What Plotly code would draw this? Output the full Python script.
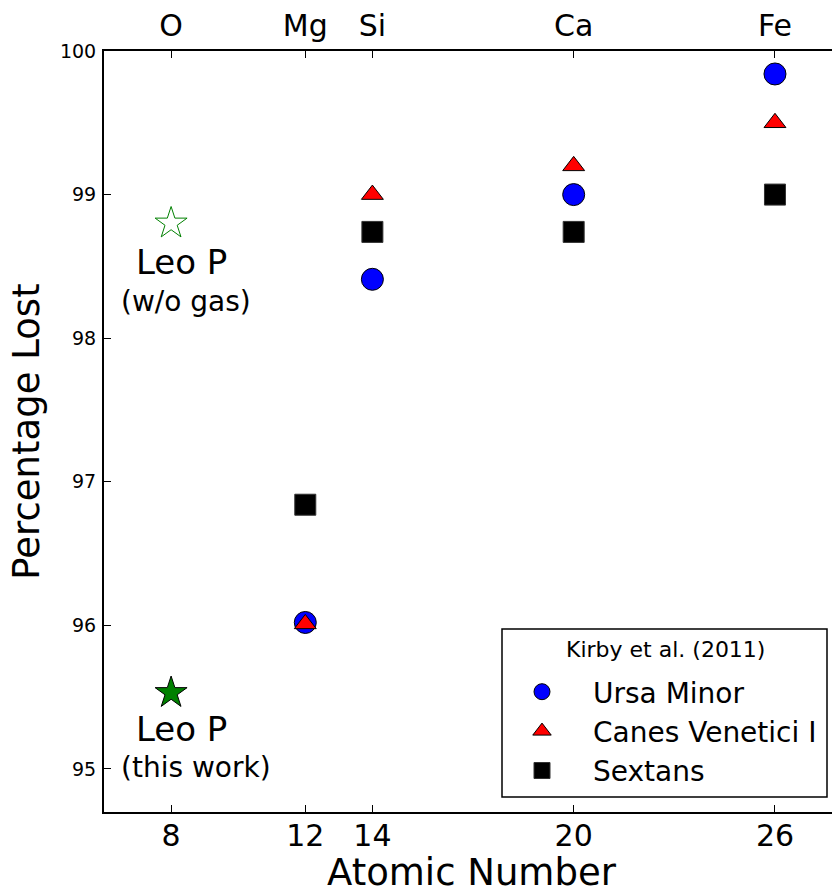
import plotly.graph_objects as go

# Element positions on the x axis (atomic number) and their symbols
atomic_numbers = [8, 12, 14, 20, 26]
element_symbols = ["O", "Mg", "Si", "Ca", "Fe"]

# Kirby et al. (2011) dwarf galaxies: percentage of each element lost
kirby_z = [12, 14, 20, 26]
ursa_minor = [96.02, 98.41, 99.0, 99.84]
canes_venatici = [96.01, 99.0, 99.2, 99.5]
sextans = [96.84, 98.74, 98.74, 99.0]

# Leo P oxygen loss
leo_p_z = [8]
leo_p_no_gas = [98.8]
leo_p_this_work = [95.53]

FONT = "DejaVu Sans"
X_RANGE = [6, 27.7]
Y_RANGE = [94.7, 100]

# Plot-area geometry in pixels (used to place the legend frame and x title)
W, H = 832, 894
M_L, M_R, M_T, M_B = 104, 0, 51, 82
PW, PH = W - M_L - M_R, H - M_T - M_B


def px_to_paper_x(px):
    return (px - M_L) / PW


def px_to_paper_y(py):
    return (H - M_B - py) / PH


fig = go.Figure()

fig.add_trace(go.Scatter(
    x=kirby_z, y=ursa_minor, mode="markers", name="Ursa Minor",
    marker=dict(symbol="circle", size=22, color="#0000ff",
                line=dict(color="black", width=1)),
))
fig.add_trace(go.Scatter(
    x=kirby_z, y=canes_venatici, mode="markers", name="Canes Venetici I",
    marker=dict(symbol="triangle-up", size=19, color="#ff0000",
                line=dict(color="black", width=1)),
))
fig.add_trace(go.Scatter(
    x=kirby_z, y=sextans, mode="markers", name="Sextans",
    marker=dict(symbol="square", size=21, color="black",
                line=dict(color="#333333", width=1)),
))

# Leo P stars live on the top (element-symbol) axis, which mirrors the bottom one
fig.add_trace(go.Scatter(
    x=leo_p_z, y=leo_p_no_gas, mode="markers", xaxis="x2", showlegend=False,
    marker=dict(symbol="star-open", size=24, color="#008000",
                line=dict(color="#008000", width=1)),
))
fig.add_trace(go.Scatter(
    x=leo_p_z, y=leo_p_this_work, mode="markers", xaxis="x2", showlegend=False,
    marker=dict(symbol="star", size=24, color="#008000",
                line=dict(color="black", width=1)),
))

# Labels under the Leo P stars (left-aligned text blocks)
labels = [
    (leo_p_no_gas[0], "Leo P", 34, -37, -39),
    (leo_p_no_gas[0], "(w/o gas)", 28, -52, -78),
    (leo_p_this_work[0], "Leo P", 34, -37, -36),
    (leo_p_this_work[0], "(this work)", 28, -52, -75),
]
for yv, txt, size, xs, ys in labels:
    fig.add_annotation(
        x=leo_p_z[0], y=yv, xref="x", yref="y", text=txt, showarrow=False,
        xshift=xs, yshift=ys, xanchor="left", yanchor="middle",
        font=dict(family=FONT, size=size, color="black"),
    )

# x-axis title, set just above the bottom edge of the page
fig.add_annotation(
    x=px_to_paper_x(472), y=px_to_paper_y(872), xref="paper", yref="paper",
    text="Atomic Number", showarrow=False, xanchor="center", yanchor="middle",
    font=dict(family=FONT, size=37, color="black"),
)

# Legend frame and heading
fig.add_shape(
    type="rect", xref="paper", yref="paper",
    x0=px_to_paper_x(502), x1=px_to_paper_x(827),
    y0=px_to_paper_y(797), y1=px_to_paper_y(629),
    line=dict(color="black", width=1.5), fillcolor="white", layer="below",
)
fig.add_annotation(
    x=px_to_paper_x(665), y=px_to_paper_y(649), xref="paper", yref="paper",
    text="Kirby et al. (2011)", showarrow=False,
    xanchor="center", yanchor="middle",
    font=dict(family=FONT, size=22, color="black"),
)

axis_common = dict(
    showgrid=False, zeroline=False, ticks="inside", ticklen=7, tickwidth=1,
    tickcolor="black", showline=True, linecolor="black", linewidth=2,
    automargin=False,
)

fig.update_layout(
    width=W, height=H,
    margin=dict(l=M_L, r=M_R, t=M_T, b=M_B, autoexpand=False),
    paper_bgcolor="white", plot_bgcolor="white",
    font=dict(family=FONT, color="black"),
    xaxis=dict(
        range=X_RANGE, tickvals=atomic_numbers,
        ticktext=[str(z) for z in atomic_numbers],
        tickfont=dict(size=30), ticklabelstandoff=-4,
        **axis_common,
    ),
    xaxis2=dict(
        range=X_RANGE, overlaying="x", side="top", anchor="y",
        tickvals=atomic_numbers, ticktext=element_symbols,
        tickfont=dict(size=30), ticklabelstandoff=1,
        **axis_common,
    ),
    yaxis=dict(
        range=Y_RANGE, tickvals=[95, 96, 97, 98, 99, 100],
        tickfont=dict(size=19), ticklabelstandoff=2,
        title=dict(text="Percentage Lost", font=dict(size=37), standoff=9),
        **axis_common,
    ),
    legend=dict(
        x=px_to_paper_x(491), y=px_to_paper_y(667),
        xanchor="left", yanchor="top",
        bgcolor="rgba(0,0,0,0)", borderwidth=0,
        font=dict(family=FONT, size=28), itemwidth=92,
    ),
)

fig.write_html("out.html")
